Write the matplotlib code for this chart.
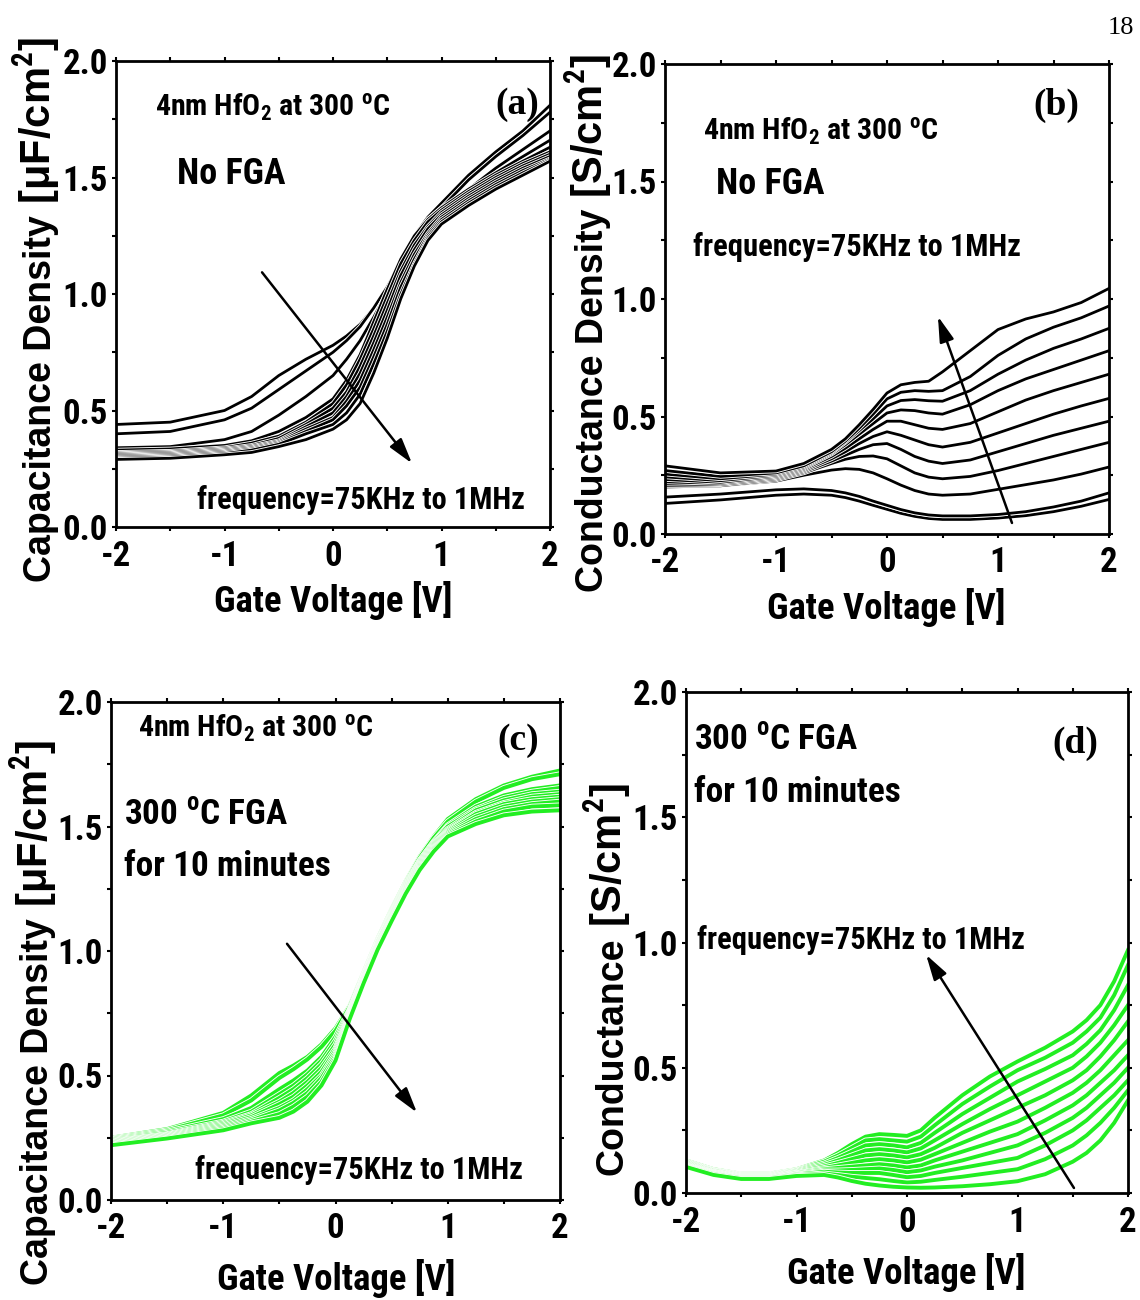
import matplotlib
matplotlib.use("Agg")
import matplotlib.pyplot as plt
import matplotlib.patheffects as pe
from matplotlib import font_manager
from matplotlib.ticker import MultipleLocator

# ---------------- data ----------------
# (a) capacitance density, no FGA, 75 kHz -> 1 MHz
gate_v_a = [-2.0, -1.5, -1.0, -0.75, -0.5, -0.25, 0.0, 0.125, 0.25, 0.375,
            0.5, 0.625, 0.75, 0.875, 1.0, 1.25, 1.5, 1.75, 2.0]
cap_nofga = [
    [0.44, 0.45, 0.50, 0.56, 0.65, 0.72, 0.78, 0.82, 0.87, 0.94, 1.03, 1.14, 1.25, 1.33, 1.39, 1.51, 1.61, 1.70, 1.81],
    [0.40, 0.41, 0.46, 0.51, 0.59, 0.67, 0.75, 0.80, 0.86, 0.94, 1.03, 1.14, 1.24, 1.32, 1.37, 1.49, 1.59, 1.68, 1.78],
    [0.34, 0.345, 0.375, 0.41, 0.48, 0.56, 0.65, 0.72, 0.80, 0.90, 1.01, 1.13, 1.23, 1.30, 1.35, 1.45, 1.54, 1.62, 1.70],
    [0.33, 0.335, 0.35, 0.37, 0.41, 0.47, 0.55, 0.63, 0.74, 0.88, 1.02, 1.15, 1.25, 1.32, 1.37, 1.45, 1.52, 1.59, 1.66],
    [0.32, 0.325, 0.34, 0.36, 0.39, 0.45, 0.53, 0.61, 0.72, 0.85, 0.99, 1.13, 1.23, 1.31, 1.36, 1.44, 1.51, 1.57, 1.63],
    [0.315, 0.32, 0.335, 0.35, 0.38, 0.44, 0.51, 0.58, 0.69, 0.82, 0.96, 1.10, 1.21, 1.29, 1.35, 1.43, 1.50, 1.56, 1.61],
    [0.31, 0.315, 0.33, 0.345, 0.37, 0.43, 0.49, 0.56, 0.66, 0.79, 0.93, 1.08, 1.19, 1.28, 1.34, 1.42, 1.49, 1.55, 1.60],
    [0.305, 0.31, 0.325, 0.34, 0.365, 0.42, 0.47, 0.54, 0.63, 0.76, 0.90, 1.05, 1.17, 1.26, 1.33, 1.41, 1.48, 1.54, 1.59],
    [0.30, 0.305, 0.32, 0.335, 0.36, 0.41, 0.46, 0.52, 0.60, 0.73, 0.87, 1.03, 1.15, 1.25, 1.32, 1.40, 1.47, 1.53, 1.58],
    [0.295, 0.30, 0.315, 0.33, 0.355, 0.40, 0.44, 0.49, 0.57, 0.70, 0.84, 1.00, 1.13, 1.24, 1.31, 1.39, 1.46, 1.52, 1.575],
    [0.29, 0.295, 0.31, 0.32, 0.345, 0.375, 0.42, 0.46, 0.53, 0.66, 0.81, 0.98, 1.12, 1.23, 1.30, 1.38, 1.45, 1.51, 1.57],
]

# (b) conductance density, no FGA
gate_v_b = [-2.0, -1.5, -1.0, -0.75, -0.5, -0.375, -0.25, -0.125, 0.0, 0.125,
            0.25, 0.375, 0.5, 0.75, 1.0, 1.25, 1.5, 1.75, 2.0]
cond_nofga = [
    [0.13, 0.145, 0.165, 0.17, 0.165, 0.155, 0.14, 0.122, 0.105, 0.088, 0.075, 0.066, 0.062, 0.062, 0.068, 0.078, 0.095, 0.118, 0.147],
    [0.157, 0.17, 0.188, 0.192, 0.185, 0.175, 0.16, 0.14, 0.122, 0.104, 0.09, 0.081, 0.077, 0.077, 0.083, 0.095, 0.115, 0.14, 0.175],
    [0.20, 0.205, 0.225, 0.25, 0.272, 0.278, 0.275, 0.26, 0.235, 0.208, 0.185, 0.17, 0.165, 0.17, 0.19, 0.21, 0.23, 0.255, 0.285],
    [0.205, 0.205, 0.23, 0.26, 0.30, 0.318, 0.33, 0.332, 0.32, 0.29, 0.26, 0.242, 0.235, 0.245, 0.27, 0.30, 0.33, 0.36, 0.39],
    [0.213, 0.21, 0.235, 0.265, 0.31, 0.335, 0.36, 0.38, 0.385, 0.36, 0.33, 0.31, 0.30, 0.315, 0.35, 0.385, 0.42, 0.45, 0.48],
    [0.222, 0.215, 0.24, 0.27, 0.32, 0.35, 0.385, 0.415, 0.435, 0.42, 0.40, 0.38, 0.37, 0.39, 0.43, 0.47, 0.51, 0.545, 0.577],
    [0.232, 0.22, 0.245, 0.275, 0.33, 0.365, 0.405, 0.445, 0.48, 0.48, 0.465, 0.45, 0.445, 0.47, 0.52, 0.57, 0.61, 0.645, 0.68],
    [0.243, 0.227, 0.25, 0.28, 0.34, 0.38, 0.425, 0.47, 0.515, 0.528, 0.525, 0.515, 0.51, 0.55, 0.61, 0.66, 0.70, 0.74, 0.78],
    [0.255, 0.235, 0.255, 0.285, 0.345, 0.39, 0.44, 0.49, 0.545, 0.568, 0.572, 0.567, 0.565, 0.61, 0.68, 0.74, 0.79, 0.83, 0.875],
    [0.27, 0.245, 0.26, 0.29, 0.35, 0.395, 0.45, 0.51, 0.575, 0.603, 0.61, 0.607, 0.61, 0.67, 0.76, 0.83, 0.88, 0.92, 0.97],
    [0.29, 0.26, 0.268, 0.30, 0.36, 0.405, 0.465, 0.53, 0.60, 0.635, 0.645, 0.65, 0.69, 0.78, 0.87, 0.915, 0.945, 0.985, 1.045],
]

# (c) capacitance density after 300 C FGA, 10 min
gate_v_c = [-2.0, -1.5, -1.0, -0.75, -0.5, -0.375, -0.25, -0.125, 0.0, 0.125,
            0.25, 0.375, 0.5, 0.625, 0.75, 0.875, 1.0, 1.25, 1.5, 1.75, 2.0]
cap_fga = [
    [0.25, 0.285, 0.35, 0.42, 0.51, 0.54, 0.575, 0.625, 0.69, 0.78, 0.915, 1.05, 1.17, 1.28, 1.38, 1.46, 1.53, 1.61, 1.665, 1.70, 1.725],
    [0.247, 0.28, 0.34, 0.40, 0.49, 0.525, 0.565, 0.615, 0.68, 0.775, 0.91, 1.045, 1.165, 1.275, 1.375, 1.455, 1.52, 1.60, 1.655, 1.69, 1.71],
    [0.244, 0.275, 0.325, 0.37, 0.445, 0.48, 0.52, 0.575, 0.655, 0.765, 0.905, 1.04, 1.16, 1.27, 1.365, 1.44, 1.505, 1.58, 1.625, 1.65, 1.665],
    [0.241, 0.27, 0.315, 0.355, 0.425, 0.46, 0.505, 0.56, 0.64, 0.76, 0.90, 1.035, 1.155, 1.265, 1.36, 1.435, 1.50, 1.57, 1.615, 1.64, 1.655],
    [0.238, 0.265, 0.31, 0.345, 0.41, 0.445, 0.49, 0.545, 0.625, 0.755, 0.90, 1.035, 1.15, 1.26, 1.355, 1.43, 1.49, 1.565, 1.605, 1.63, 1.64],
    [0.235, 0.262, 0.305, 0.34, 0.395, 0.43, 0.475, 0.53, 0.61, 0.75, 0.895, 1.03, 1.145, 1.255, 1.35, 1.425, 1.485, 1.555, 1.595, 1.62, 1.63],
    [0.232, 0.259, 0.30, 0.333, 0.385, 0.415, 0.46, 0.515, 0.60, 0.745, 0.89, 1.025, 1.14, 1.25, 1.345, 1.42, 1.48, 1.55, 1.59, 1.61, 1.62],
    [0.229, 0.256, 0.295, 0.326, 0.37, 0.40, 0.445, 0.50, 0.59, 0.74, 0.885, 1.02, 1.135, 1.245, 1.34, 1.415, 1.475, 1.54, 1.58, 1.60, 1.61],
    [0.226, 0.253, 0.29, 0.32, 0.36, 0.39, 0.43, 0.49, 0.58, 0.735, 0.88, 1.015, 1.13, 1.24, 1.335, 1.41, 1.47, 1.53, 1.57, 1.59, 1.60],
    [0.223, 0.25, 0.285, 0.314, 0.345, 0.375, 0.415, 0.475, 0.57, 0.73, 0.875, 1.01, 1.125, 1.235, 1.33, 1.405, 1.465, 1.52, 1.56, 1.58, 1.585],
    [0.22, 0.247, 0.28, 0.308, 0.33, 0.355, 0.395, 0.46, 0.56, 0.725, 0.87, 1.005, 1.12, 1.23, 1.325, 1.40, 1.46, 1.51, 1.545, 1.56, 1.565],
]

# (d) conductance after 300 C FGA, 10 min
gate_v_d = [-2.0, -1.75, -1.5, -1.25, -1.0, -0.75, -0.625, -0.5, -0.375, -0.25,
            -0.125, 0.0, 0.125, 0.25, 0.5, 0.75, 1.0, 1.25, 1.5, 1.625, 1.75, 1.875, 2.0]
cond_fga = [
    [0.13, 0.095, 0.077, 0.077, 0.095, 0.13, 0.16, 0.195, 0.225, 0.235, 0.232, 0.228, 0.25, 0.30, 0.39, 0.465, 0.525, 0.58, 0.645, 0.69, 0.75, 0.845, 0.97],
    [0.127, 0.092, 0.075, 0.075, 0.092, 0.125, 0.15, 0.18, 0.21, 0.215, 0.21, 0.205, 0.225, 0.27, 0.355, 0.425, 0.49, 0.54, 0.60, 0.645, 0.70, 0.79, 0.91],
    [0.124, 0.09, 0.073, 0.073, 0.09, 0.118, 0.14, 0.165, 0.19, 0.195, 0.19, 0.182, 0.20, 0.24, 0.315, 0.38, 0.445, 0.495, 0.55, 0.595, 0.65, 0.73, 0.83],
    [0.121, 0.088, 0.071, 0.071, 0.087, 0.112, 0.13, 0.15, 0.17, 0.175, 0.17, 0.162, 0.178, 0.21, 0.275, 0.335, 0.39, 0.445, 0.50, 0.545, 0.60, 0.67, 0.75],
    [0.118, 0.085, 0.069, 0.069, 0.084, 0.106, 0.12, 0.135, 0.15, 0.155, 0.15, 0.142, 0.155, 0.18, 0.24, 0.29, 0.34, 0.39, 0.45, 0.49, 0.545, 0.61, 0.685],
    [0.115, 0.083, 0.067, 0.067, 0.081, 0.10, 0.11, 0.12, 0.13, 0.135, 0.13, 0.122, 0.133, 0.155, 0.20, 0.245, 0.285, 0.34, 0.40, 0.44, 0.49, 0.55, 0.61],
    [0.112, 0.081, 0.065, 0.065, 0.079, 0.095, 0.10, 0.105, 0.11, 0.115, 0.11, 0.102, 0.11, 0.13, 0.165, 0.20, 0.235, 0.29, 0.35, 0.39, 0.44, 0.49, 0.55],
    [0.11, 0.079, 0.063, 0.063, 0.076, 0.09, 0.09, 0.092, 0.095, 0.098, 0.092, 0.083, 0.09, 0.105, 0.13, 0.16, 0.19, 0.24, 0.30, 0.34, 0.39, 0.44, 0.50],
    [0.108, 0.077, 0.061, 0.061, 0.074, 0.085, 0.082, 0.08, 0.08, 0.08, 0.072, 0.063, 0.068, 0.08, 0.10, 0.12, 0.14, 0.19, 0.25, 0.29, 0.34, 0.39, 0.45],
    [0.106, 0.075, 0.059, 0.059, 0.071, 0.078, 0.072, 0.065, 0.06, 0.055, 0.048, 0.042, 0.045, 0.052, 0.065, 0.08, 0.095, 0.135, 0.19, 0.23, 0.28, 0.34, 0.41],
    [0.104, 0.072, 0.056, 0.056, 0.068, 0.072, 0.062, 0.048, 0.037, 0.03, 0.025, 0.022, 0.021, 0.022, 0.027, 0.035, 0.047, 0.075, 0.125, 0.16, 0.21, 0.28, 0.37],
]

x_ticks = [-2, -1, 0, 1, 2]
x_ticklabels = ["-2", "-1", "0", "1", "2"]
y_ticks = [0.0, 0.5, 1.0, 1.5, 2.0]
y_ticklabels = ["0.0", "0.5", "1.0", "1.5", "2.0"]

# ---------------- fonts ----------------
ttf = font_manager.fontManager.ttflist
available = {f.name for f in ttf}


def pick_narrow():
    for name in ["Liberation Sans Narrow", "Roboto Condensed", "DejaVu Sans Condensed",
                 "Open Sans Condensed", "Noto Sans Condensed"]:
        if name in available:
            return name, "normal"
    for f in ttf:
        low = f.fname.lower()
        if ("condensed" in low or "narrow" in low) and "mono" not in low \
                and "serif" not in low and "bold" in low:
            return f.name, f.stretch
    return None, None


NARROW, NSTRETCH = pick_narrow()
HAVE_NARROW = NARROW is not None
if not HAVE_NARROW:
    NARROW, NSTRETCH = "Liberation Sans", "normal"
# a wide face needs smaller sizes to keep the same text widths
SQ = 1.0 if HAVE_NARROW else 0.84
WIDE = "Liberation Sans"
SERIF = "Liberation Serif"

plt.rcParams["axes.unicode_minus"] = False
plt.rcParams["mathtext.fontset"] = "custom"
pattern = f"{NARROW}:weight=bold:stretch={NSTRETCH}"
for key in ("rm", "bf", "it", "sf"):
    plt.rcParams["mathtext." + key] = pattern

W, H = 1140, 1300
fig = plt.figure(figsize=(W / 100, H / 100), dpi=100)
fig.patch.set_facecolor("white")
renderer = fig.canvas.get_renderer()


def fx(x):
    return x / W


def fy(y):
    return 1 - y / H


def nfont(size):
    return font_manager.FontProperties(family=NARROW, stretch=NSTRETCH,
                                       weight="bold", size=size * SQ)


def make_axes(left, top, right, bottom):
    ax = fig.add_axes([fx(left), fy(bottom), fx(right - left), (bottom - top) / H])
    ax.set_xlim(-2, 2)
    ax.set_ylim(0, 2)
    ax.set_xticks(x_ticks)
    ax.set_xticklabels(x_ticklabels)
    ax.set_yticks(y_ticks)
    ax.set_yticklabels(y_ticklabels)
    ax.xaxis.set_minor_locator(MultipleLocator(0.5))
    ax.yaxis.set_minor_locator(MultipleLocator(0.25))
    ax.tick_params(which="both", direction="out", length=3, width=1.5,
                   top=True, right=True)
    ax.tick_params(axis="x", which="major", pad=6)
    ax.tick_params(axis="y", which="major", pad=3)
    for lab in ax.get_xticklabels() + ax.get_yticklabels():
        lab.set_fontproperties(nfont(25))
    for sp in ax.spines.values():
        sp.set_linewidth(2.0)
    return ax


def draw_curves(ax, v, rows, color, lw):
    for row in rows:
        ax.plot(v, row, color=color, lw=lw, solid_joinstyle="round",
                path_effects=[pe.Stroke(linewidth=lw + 1.3, foreground="white"),
                              pe.Normal()])


def arrow(ax, start, end):
    ax.annotate("", xy=end, xytext=start,
                arrowprops=dict(arrowstyle="-|>,head_length=0.7,head_width=0.2",
                                color="black", lw=1.8, mutation_scale=22,
                                shrinkA=0, shrinkB=0))


def txt(x, y, s, size, serif=False):
    if serif:
        props = font_manager.FontProperties(family=SERIF, weight="bold", size=size)
    else:
        props = nfont(size)
    fig.text(fx(x), fy(y), s, ha="left", va="center", fontproperties=props)


def ylabel(x_base, y_start, name, unit):
    # quantity name, then the bracketed unit set a little larger
    t1 = fig.text(fx(x_base), fy(y_start), name, rotation=90,
                  rotation_mode="anchor", ha="left", va="baseline",
                  fontsize=27, fontweight="bold", family=WIDE)
    bb = t1.get_window_extent(renderer)
    fig.text(fx(x_base), bb.y1 / H, unit, rotation=90,
             rotation_mode="anchor", ha="left", va="baseline",
             fontsize=30, fontweight="bold", family=WIDE)


def xlabel(x, y):
    fig.text(fx(x), fy(y), "Gate Voltage [V]", ha="center", va="center",
             fontproperties=nfont(26.5))


GREEN = "#22ee22"
hfo2 = r"4nm HfO$_2$ at 300 $^\mathrm{o}$C"
fga = r"300 $^\mathrm{o}$C FGA"
freq = "frequency=75KHz to 1MHz"
cap_unit = r" [μF/cm$^\mathbf{2}$]"
cond_unit = r" [S/cm$^\mathbf{2}$]"

# ---- (a) ----
ax_a = make_axes(116, 61, 550, 527)
draw_curves(ax_a, gate_v_a, cap_nofga, "black", 2.0)
arrow(ax_a, (-0.654, 1.093), (0.728, 0.273))
txt(155, 107, hfo2, 21.5)
txt(177, 174, "No FGA", 26)
txt(197, 500, freq, 22)
txt(495, 104, "(a)", 27, serif=True)
ylabel(51, 582, "Capacitance Density", cap_unit)
xlabel(333, 600)

# ---- (b) ----
ax_b = make_axes(665, 64, 1109, 534)
draw_curves(ax_b, gate_v_b, cond_nofga, "black", 2.0)
arrow(ax_b, (1.126, 0.047), (0.459, 0.926))
txt(703, 131, hfo2, 21.5)
txt(716, 184, "No FGA", 26)
txt(693, 247, freq, 22)
txt(1033, 105, "(b)", 27, serif=True)
ylabel(603, 592, "Conductance Density", cond_unit)
xlabel(886, 608)

# ---- (c) ----
ax_c = make_axes(111, 702, 560, 1200)
draw_curves(ax_c, gate_v_c, cap_fga, GREEN, 2.8)
arrow(ax_c, (-0.432, 1.029), (0.726, 0.351))
txt(138, 728, hfo2, 21.5)
txt(124, 815, fga, 25.5)
txt(124, 867, "for 10 minutes", 25.5)
txt(195, 1170, freq, 22)
txt(497, 741, "(c)", 27, serif=True)
ylabel(48, 1285, "Capacitance Density", cap_unit)
xlabel(336, 1278)

# ---- (d) ----
ax_d = make_axes(686, 692, 1128, 1193)
draw_curves(ax_d, gate_v_d, cond_fga, GREEN, 2.8)
arrow(ax_d, (1.511, 0.02), (0.173, 0.951))
txt(694, 740, fga, 25.5)
txt(694, 792, "for 10 minutes", 25.5)
txt(697, 940, freq, 22)
txt(1052, 743, "(d)", 27, serif=True)
ylabel(622, 1175, "Conductance", cond_unit)
xlabel(906, 1272)

fig.text(fx(1108), fy(28), "18", ha="left", va="center", fontsize=19, family=SERIF)

fig.savefig("out.png", dpi=100, facecolor="white")
